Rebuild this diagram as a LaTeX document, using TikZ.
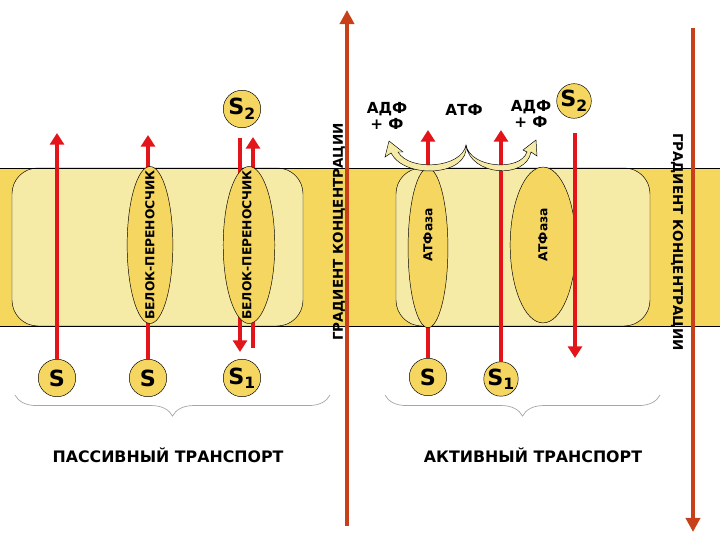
\documentclass[tikz,border=0pt]{standalone}
\usepackage{fontspec}
\setmainfont{DejaVu Sans}
\usetikzlibrary{arrows.meta,decorations.pathreplacing,shapes.geometric}
\definecolor{memb}{HTML}{F5D75E}
\definecolor{light}{HTML}{F6EBA6}
\definecolor{prot}{HTML}{F5D660}
\definecolor{arr}{HTML}{E3141A}
\definecolor{grad}{HTML}{C8401A}
\tikzset{
 sub/.style={circle,draw=black,fill=prot,minimum size=32pt,inner sep=0pt,font=\bfseries\fontsize{19}{19}\selectfont},
 carrier/.style={ellipse,draw=black,fill=prot},
 flow/.style={draw=arr,line width=3.2pt,-{Triangle[length=10pt,width=12pt]}},
 gradarr/.style={draw=grad,line width=3.6pt,-{Triangle[length=12pt,width=12pt]}},
 lbl/.style={font=\bfseries\fontsize{13}{13}\selectfont},
 vtxt/.style={font=\bfseries\fontsize{10.5}{10.5}\selectfont,rotate=90},
 brace/.style={draw=gray!70,line width=0.6pt,decorate,decoration={brace,amplitude=18pt,mirror}},
 curly/.style={draw=black,fill=light,line width=0.4pt}
}
\begin{document}
\begin{tikzpicture}[x=0.03cm,y=-0.03cm]
\useasboundingbox (0,0) rectangle (720,540);
\fill[memb] (0,168) rectangle (720,326);
\draw[fill=light,draw=black,rounded corners=22] (12,168) rectangle (303,326);
\draw[fill=light,draw=black,rounded corners=22] (396,168) rectangle (650,326);
\draw (0,168)--(720,168) (0,326)--(720,326);
% passive
\node[sub] (s1) at (57,378) {S};
\node[sub] (s2) at (148,378) {S};
\node[sub] (s3) at (242,378) {S\textsubscript{1}};
\node[sub] (s4) at (242,109) {S\textsubscript{2}};
\coordinate (t1) at (57,133);
\coordinate (t2) at (148,135);
\draw[flow] (s1) -- (t1);
\draw[flow] (s2) -- (t2);
\coordinate (d1) at (240,138); \coordinate (d2) at (240,352);
\coordinate (u1) at (253,348); \coordinate (u2) at (253,137);
\draw[flow] (d1) -- (d2);
\draw[flow] (u1) -- (u2);
\node[carrier,minimum width=39pt,minimum height=134pt] (c1) at (150,245) {};
\node[carrier,minimum width=44pt,minimum height=134pt] (c2) at (249,245) {};
\node[vtxt] at (150,245) {БЕЛОК-ПЕРЕНОСЧИК};
\node[vtxt] at (247,245) {БЕЛОК-ПЕРЕНОСЧИК};
% active
\node[sub] (s5) at (428,377) {S};
\node[sub,minimum size=28pt] (s6) at (501,379) {S\textsubscript{1}};
\node[sub,minimum size=28pt] (s7) at (574,101) {S\textsubscript{2}};
\coordinate (t5) at (428,130); \coordinate (t6) at (501,130);
\coordinate (d3) at (575,133); \coordinate (d4) at (575,358);
\draw[flow] (s5) -- (t5);
\node[carrier,minimum width=34pt,minimum height=136pt] (c3) at (428,248) {};
\node[carrier,minimum width=56pt,minimum height=133pt] (c4) at (543,245) {};
\draw[flow] (s6) -- (t6);
\draw[flow] (d3) -- (d4);
\node[vtxt] at (428,235) {АТФаза};
\node[vtxt] at (543,235) {АТФаза};
% curved ATP arrows
\draw[curly] (466,145) .. controls (462,168) and (410,172) .. (398,152) -- (403,152) -- (389,141) -- (385,157) -- (391,153) .. controls (405,180) and (470,176) .. (466,145) -- cycle;
\draw[curly] (466,145) .. controls (470,176) and (526,180) .. (531,152) -- (537,156) -- (536,140) -- (523,150) -- (527,152) .. controls (520,172) and (470,168) .. (466,145) -- cycle;
\node[lbl,align=center] (adp1) at (387,116) {АДФ\\[1pt]+ Ф};
\node[lbl] (atp) at (464,110) {АТФ};
\node[lbl,align=center] (adp2) at (531,114) {АДФ\\[1pt]+ Ф};
% gradients
\coordinate (g1) at (347,526); \coordinate (g2) at (347,10);
\draw[gradarr] (g1) -- (g2);
\coordinate (g3) at (693,28); \coordinate (g4) at (693,532);
\draw[gradarr] (g3) -- (g4);
\node[vtxt,font=\bfseries\fontsize{11.5}{11.5}\selectfont] (gl) at (339,232) {ГРАДИЕНТ КОНЦЕНТРАЦИИ};
\node[vtxt,rotate=180,font=\bfseries\fontsize{11.5}{11.5}\selectfont] (gr) at (677,242) {ГРАДИЕНТ КОНЦЕНТРАЦИИ};
% braces
\coordinate (b1) at (15,395); \coordinate (b2) at (330,395);
\draw[brace] (b1) -- (b2);
\coordinate (b3) at (385,395); \coordinate (b4) at (660,395);
\draw[brace] (b3) -- (b4);
\node[lbl,font=\bfseries\fontsize{13.5}{13.5}\selectfont] (pt) at (168,455) {ПАССИВНЫЙ ТРАНСПОРТ};
\node[lbl,font=\bfseries\fontsize{13.5}{13.5}\selectfont] (at) at (533,455) {АКТИВНЫЙ ТРАНСПОРТ};
\end{tikzpicture}
\end{document}
